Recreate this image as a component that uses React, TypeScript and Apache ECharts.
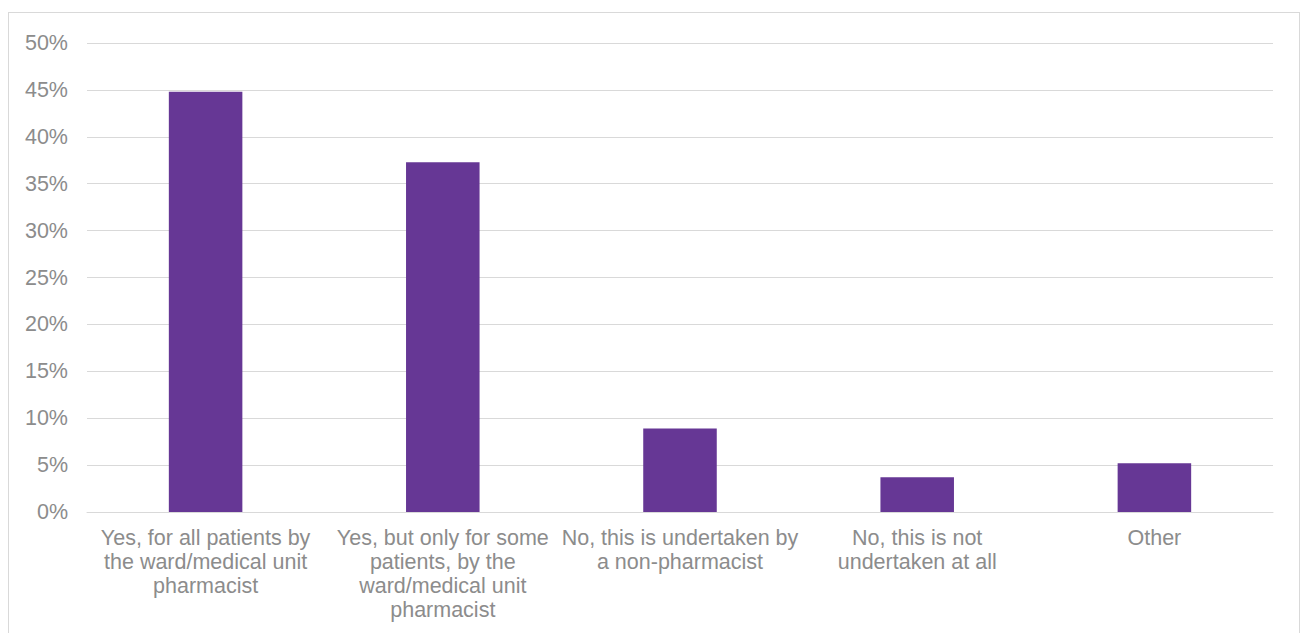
import React, { useEffect, useRef } from "react";
import * as echarts from "echarts";

const categories = [
  "Yes, for all patients by\nthe ward/medical unit\npharmacist",
  "Yes, but only for some\npatients, by the\nward/medical unit\npharmacist",
  "No, this is undertaken by\na non-pharmacist",
  "No, this is not\nundertaken at all",
  "Other",
];
const values = [44.8, 37.3, 8.9, 3.7, 5.2];

export default function App() {
  const ref = useRef<HTMLDivElement>(null);
  useEffect(() => {
    if (!ref.current) return;
    const chart = echarts.init(ref.current, undefined, { renderer: "svg" });
    chart.setOption({
      animation: false,
      grid: { left: 78, right: 26, top: 30, bottom: 129, containLabel: false },
      xAxis: {
        type: "category",
        data: categories,
        axisLine: { show: true, lineStyle: { color: "#d9d9d9", width: 1 } },
        axisTick: { show: false },
        axisLabel: {
          color: "#8c8c8c",
          fontFamily: "Liberation Sans, Arial, sans-serif",
          fontSize: 21.5,
          lineHeight: 24,
          margin: 14,
          interval: 0,
          align: "center",
        },
      },
      yAxis: {
        type: "value",
        min: 0,
        max: 50,
        interval: 5,
        axisLine: { show: false },
        axisTick: { show: false },
        splitLine: { lineStyle: { color: "#d9d9d9", width: 1 } },
        axisLabel: {
          color: "#8c8c8c",
          fontFamily: "Liberation Sans, Arial, sans-serif",
          fontSize: 21.5,
          margin: 19,
          formatter: (v: number) => `${v}%`,
        },
      },
      series: [
        {
          type: "bar",
          data: values,
          barWidth: "31%",
          itemStyle: { color: "#663795" },
        },
      ],
    });
    return () => chart.dispose();
  }, []);
  return (
    <div
      style={{
        position: "absolute",
        left: 8,
        top: 12,
        width: 1292,
        height: 630,
        border: "1px solid #d9d9d9",
        boxSizing: "border-box",
        background: "#fff",
      }}
    >
      <div ref={ref} style={{ width: "100%", height: "100%" }} />
    </div>
  );
}
